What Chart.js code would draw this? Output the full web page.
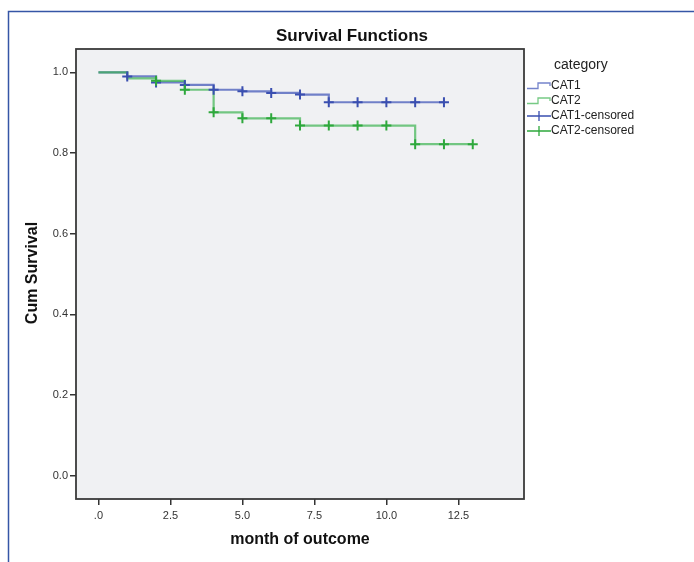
<!DOCTYPE html>
<html>
<head>
<meta charset="utf-8">
<script src="https://cdn.jsdelivr.net/npm/chart.js@4.4.1/dist/chart.umd.min.js"></script>
<style>
  body { margin: 0; background: #fff; }
  canvas { display: block; }
</style>
</head>
<body>
<canvas id="grafico" width="694" height="562"></canvas>
<script>
// survival steps (time, cum survival after that time)
const cat1Tempo = [0, 1, 2, 3, 4, 5, 6, 7, 8, 12];
const cat1Surv = [1.0, 0.990, 0.975, 0.969, 0.957, 0.953, 0.949, 0.945, 0.926, 0.926];
const cat2Tempo = [0, 1, 2, 3, 4, 5, 7, 11, 13];
const cat2Surv = [1.0, 0.985, 0.979, 0.957, 0.901, 0.886, 0.868, 0.822, 0.822];

// censored marks
const cat1CensTempo = [1, 2, 3, 4, 5, 6, 7, 8, 9, 10, 11, 12];
const cat1CensSurv = [0.990, 0.975, 0.969, 0.957, 0.953, 0.949, 0.945, 0.926, 0.926, 0.926, 0.926, 0.926];
const cat2CensTempo = [2, 3, 4, 5, 6, 7, 8, 9, 10, 11, 12, 13];
const cat2CensSurv = [0.979, 0.957, 0.901, 0.886, 0.886, 0.868, 0.868, 0.868, 0.868, 0.822, 0.822, 0.822];

const ticksX = [0, 2.5, 5, 7.5, 10, 12.5];
const ticksY = [0, 0.2, 0.4, 0.6, 0.8, 1.0];
const categorias = ['CAT1', 'CAT2', 'CAT1-censored', 'CAT2-censored'];

const azulLinha = 'rgba(70, 90, 185, 0.75)';
const azulMarca = '#3a4fb0';
const verdeLinha = 'rgba(60, 180, 80, 0.7)';
const verdeMarca = '#2ea83c';
const fonte = '"Liberation Sans", Arial, sans-serif';

function pontos(xs, ys) {
    return xs.map((x, i) => ({ x: x, y: ys[i] }));
}

const fundo = {
    id: 'fundo',
    beforeDraw(chart) {
        const c = chart.ctx;
        const a = chart.chartArea;
        c.save();
        // moldura azul
        c.strokeStyle = '#3556a6';
        c.lineWidth = 1.5;
        c.beginPath();
        c.moveTo(8.5, 562);
        c.lineTo(8.5, 11.5);
        c.lineTo(694, 11.5);
        c.stroke();
        c.fillStyle = '#f0f1f3';
        c.fillRect(a.left, a.top, a.right - a.left, a.bottom - a.top);
        c.restore();
    },
    afterDraw(chart) {
        const c = chart.ctx;
        const a = chart.chartArea;
        c.save();
        c.strokeStyle = '#3a3a3a';
        c.lineWidth = 1.8;
        c.strokeRect(a.left, a.top, a.right - a.left, a.bottom - a.top);

        c.fillStyle = '#111';
        c.textAlign = 'center';
        c.textBaseline = 'middle';
        c.font = 'bold 17px ' + fonte;
        c.fillText('Survival Functions', 352, 36);
        c.font = 'bold 16px ' + fonte;
        c.fillText('month of outcome', 300, 540);
        c.translate(33, 273);
        c.rotate(-Math.PI / 2);
        c.fillText('Cum Survival', 0, 0);
        c.restore();

        // legenda
        c.save();
        c.fillStyle = '#222';
        c.textBaseline = 'middle';
        c.textAlign = 'left';
        c.font = '14px ' + fonte;
        c.fillText('category', 554, 65);
        c.font = '12px ' + fonte;
        const ys = [86, 101, 116, 131];
        const cores = [azulLinha, verdeLinha, azulMarca, verdeMarca];
        categorias.forEach((nome, i) => {
            const y = ys[i];
            c.strokeStyle = cores[i];
            c.lineWidth = 1.3;
            c.beginPath();
            if (i < 2) {
                c.moveTo(527, y + 2.5);
                c.lineTo(538, y + 2.5);
                c.lineTo(538, y - 3);
                c.lineTo(550, y - 3);
                c.lineTo(550, y);
            } else {
                c.moveTo(527, y);
                c.lineTo(551, y);
                c.moveTo(539, y - 5);
                c.lineTo(539, y + 5);
            }
            c.stroke();
            c.fillText(nome, 551, y);
        });
        c.restore();
    }
};

new Chart(document.getElementById('grafico').getContext('2d'), {
    type: 'line',
    data: {
        datasets: [
            { label: 'CAT1', order: 3, data: pontos(cat1Tempo, cat1Surv), stepped: 'before', borderColor: azulLinha, borderWidth: 2.2, pointRadius: 0, fill: false },
            { label: 'CAT2', order: 2, data: pontos(cat2Tempo, cat2Surv), stepped: 'before', borderColor: verdeLinha, borderWidth: 2.2, pointRadius: 0, fill: false },
            { label: 'CAT1-censored', order: 1, data: pontos(cat1CensTempo, cat1CensSurv), showLine: false, pointStyle: 'cross', pointRadius: 5, pointBorderWidth: 2, borderColor: azulMarca, backgroundColor: azulMarca },
            { label: 'CAT2-censored', order: 0, data: pontos(cat2CensTempo, cat2CensSurv), showLine: false, pointStyle: 'cross', pointRadius: 5, pointBorderWidth: 2, borderColor: verdeMarca, backgroundColor: verdeMarca }
        ]
    },
    options: {
        responsive: false,
        animation: false,
        layout: { padding: { left: 0, top: 49, right: 170, bottom: 0 } },
        plugins: { legend: { display: false }, title: { display: false }, tooltip: { enabled: false } },
        scales: {
            x: {
                type: 'linear',
                min: -0.78,
                max: 14.78,
                afterBuildTicks: s => { s.ticks = ticksX.map(v => ({ value: v })); },
                afterFit: s => { s.height = 63; },
                grid: { drawOnChartArea: false, drawTicks: true, tickLength: 6, color: '#333', lineWidth: 1.5 },
                border: { display: false },
                ticks: {
                    padding: 4,
                    color: '#333',
                    font: { family: fonte, size: 11 },
                    maxRotation: 0,
                    callback: v => v === 0 ? '.0' : v.toFixed(1)
                }
            },
            y: {
                type: 'linear',
                min: -0.058,
                max: 1.058,
                afterBuildTicks: s => { s.ticks = ticksY.map(v => ({ value: v })); },
                afterFit: s => { s.width = 76; },
                grid: { drawOnChartArea: false, drawTicks: true, tickLength: 6, color: '#333', lineWidth: 1.5 },
                border: { display: false },
                ticks: {
                    padding: 2,
                    color: '#333',
                    font: { family: fonte, size: 11 },
                    callback: v => v.toFixed(1)
                }
            }
        }
    },
    plugins: [fundo]
});
</script>
</body>
</html>
